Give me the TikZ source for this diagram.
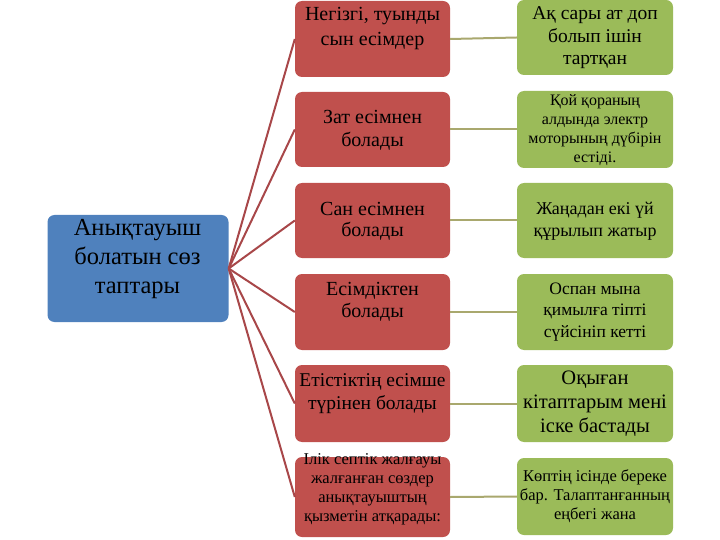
\documentclass[tikz,border=0pt]{standalone}
\usepackage{fontspec}
\setmainfont{Liberation Serif}
\definecolor{bluebox}{HTML}{4F81BD}
\definecolor{redbox}{HTML}{C0504D}
\definecolor{greenbox}{HTML}{9BBB59}
\definecolor{spokecol}{HTML}{A84749}
\definecolor{linkcol}{HTML}{A9A86E}
\tikzset{
  boxbase/.style={rectangle, rounded corners=7pt, inner sep=0pt, draw=none},
  bluenode/.style={boxbase, fill=bluebox},
  rednode/.style={boxbase, fill=redbox, minimum width=155pt},
  greennode/.style={boxbase, fill=greenbox, minimum width=156pt},
  txt/.style={align=center, inner sep=0pt, text=black},
  spoke/.style={draw=spokecol, line width=2pt},
  link/.style={draw=linkcol, line width=2pt},
  fs/.style 2 args={font=\fontsize{#1}{#2}\selectfont}
}
\begin{document}
\begin{tikzpicture}[x=1pt,y=-1pt]
\useasboundingbox (0,0) rectangle (720,540);
% central node
\node[bluenode, minimum width=181pt, minimum height=107pt] (b) at (138,268.5) {};
\node[txt, fs={24.5}{29}] (bt) at (137.5,259) {Анықтауыш\\болатын сөз\\таптары};
% red nodes
\node[rednode, minimum height=76pt] (r1) at (372.5,39) {};
\node[rednode, minimum height=75pt] (r2) at (372.5,129.5) {};
\node[rednode, minimum height=75pt] (r3) at (372.5,220.5) {};
\node[rednode, minimum height=76pt] (r4) at (372.5,312) {};
\node[rednode, minimum height=77pt] (r5) at (372.5,403.5) {};
\node[rednode, minimum height=80pt] (r6) at (372.5,497) {};
% green nodes
\node[greennode, minimum height=75pt] (g1) at (595,37.5) {};
\node[greennode, minimum height=77pt] (g2) at (595,129.5) {};
\node[greennode, minimum height=75pt] (g3) at (595,220.5) {};
\node[greennode, minimum height=76pt] (g4) at (595,312) {};
\node[greennode, minimum height=77pt] (g5) at (595,403.5) {};
\node[greennode, minimum height=77pt] (g6) at (595,496.5) {};
% red texts
\node[txt, fs={20}{25}] (rt1) at (372.5,29) {Негізгі, туынды\\сын есімдер};
\node[txt, fs={20}{23}] (rt2) at (372.5,130) {Зат есімнен\\болады};
\node[txt, fs={20}{21}] (rt3) at (372.5,221) {Сан есімнен\\болады};
\node[txt, fs={20}{22}] (rt4) at (372.5,301.5) {Есімдіктен\\болады};
\node[txt, fs={19.5}{23}] (rt5) at (372.5,394) {Етістіктің есімше\\түрінен болады};
\node[txt, fs={16.5}{19}] (rt6) at (372.5,489) {Ілік септік жалғауы\\жалғанған сөздер\\анықтауыштың\\қызметін атқарады:};
% green texts
\node[txt, fs={19.5}{22.5}] (gt1) at (595,38) {Ақ сары ат доп\\болып ішін\\тартқан};
\node[txt, fs={16}{19}] (gt2) at (595,130.5) {Қой қораның\\алдында электр\\моторының дүбірін\\естіді.};
\node[txt, fs={18}{22}] (gt3) at (595,221.5) {Жаңадан екі үй\\құрылып жатыр};
\node[txt, fs={17.5}{21.5}] (gt4) at (595,312) {Оспан мына\\қимылға тіпті\\сүйсініп кетті};
\node[txt, fs={20.5}{24}] (gt5) at (595,404) {Оқыған\\кітаптарым мені\\іске бастады};
\node[txt, fs={16.5}{19}] (gt6) at (595,496) {Көптің ісінде береке\\бар. Талаптанғанның\\еңбегі жана};
% connectors
\foreach \i in {1,...,6} {
  \draw[spoke] (b.east) -- (r\i.west);
  \draw[link] (r\i.east) -- (g\i.west);
}
\end{tikzpicture}
\end{document}
